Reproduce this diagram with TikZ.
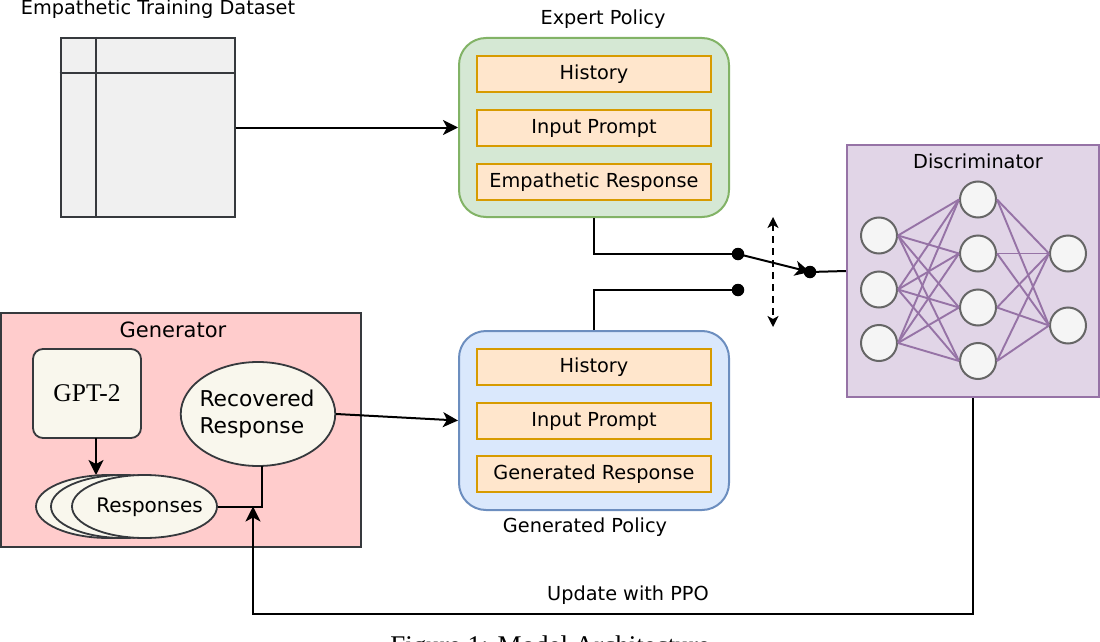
\documentclass[tikz,border=0pt]{standalone}
\usepackage{fontspec}
\setmainfont{DejaVu Sans}
\newfontfamily\capfont{Liberation Serif}
\usepackage{tikz}
\usetikzlibrary{arrows.meta,shapes}
\definecolor{darkline}{HTML}{36393D}
\definecolor{greenfill}{HTML}{D5E8D4}
\definecolor{greenline}{HTML}{82B366}
\definecolor{bluefill}{HTML}{DAE8FC}
\definecolor{blueline}{HTML}{6C8EBF}
\definecolor{purplefill}{HTML}{E1D5E7}
\definecolor{purpleline}{HTML}{9673A6}
\definecolor{fieldfill}{HTML}{FFE6CC}
\definecolor{fieldline}{HTML}{D79B00}
\definecolor{creamfill}{HTML}{F9F7ED}
\definecolor{redfill}{HTML}{FFCCCC}
\tikzstyle{label text}=[font=\fontsize{19.3}{23}\selectfont, inner sep=0pt, align=left]
\tikzstyle{policy}=[draw, line width=2pt, rounded corners=27pt, minimum width=270pt, minimum height=179pt, inner sep=0pt]
\tikzstyle{field}=[draw=fieldline, line width=2.2pt, fill=fieldfill, minimum width=234pt, minimum height=36pt, inner sep=0pt, font=\fontsize{19.3}{23}\selectfont]
\tikzstyle{oval}=[ellipse, draw=darkline, line width=1.8pt, fill=creamfill, inner sep=0pt]
\tikzstyle{nn vertex}=[circle, draw=black!60, line width=2pt, fill=black!4, minimum size=36pt, inner sep=0pt]
\tikzstyle{nn edge}=[draw=purpleline, line width=1.9pt,-]
\tikzstyle{edge}=[draw, line width=2pt, -{Stealth[length=15pt, width=15pt, inset=4pt]}]
\tikzstyle{wire}=[draw, line width=2pt, -]
\tikzstyle{dot}=[circle, fill=black, minimum size=12.5pt, inner sep=0pt]

\begin{document}
\begin{tikzpicture}[x=1pt, y=-1pt]
\clip (0,0) rectangle (1100,642);
\useasboundingbox (0,0) rectangle (1100,642);

% First we draw the boxes
\node[draw=darkline, line width=2pt, fill=black!6, minimum width=174pt, minimum height=179pt, inner sep=0pt] (dataset) at (147.5,127.5) {};
\draw[draw=darkline, line width=2pt] ([xshift=36pt]dataset.north west) -- ([xshift=36pt]dataset.south west);
\draw[draw=darkline, line width=2pt] ([yshift=-36pt]dataset.north west) -- ([yshift=-36pt]dataset.north east);

\node[policy, draw=greenline, fill=greenfill] (expert) at (594,127.5) {};
\node[policy, draw=blueline, fill=bluefill] (generated) at (594,420.5) {};

\node[draw=darkline, line width=2pt, fill=redfill, minimum width=359.5pt, minimum height=233.5pt, inner sep=0pt] (generator) at (180.75,429.75) {};
\node[draw=purpleline, line width=2.2pt, fill=purplefill, minimum width=252pt, minimum height=252.5pt, inner sep=0pt] (discriminator) at (973,271) {};

% Fields of the two policies
\foreach \pos/\label/\name in {
	{(594,73.8)/e1/History},
	{(594,128)/e2/Input Prompt},
	{(594,181.8)/e3/Empathetic Response},
	{(594,367)/g1/History},
	{(594,421)/g2/Input Prompt},
	{(594,474)/g3/Generated Response}}
\node[field] (\label) at \pos {\raisebox{2pt}{\vphantom{Ay}\name}};

% Generator parts
\node[draw=darkline, line width=1.8pt, fill=creamfill, rounded corners=10pt, minimum width=108pt, minimum height=89pt, inner sep=0pt, font=\capfont\fontsize{25.5}{29}\selectfont] (gpt) at (87,393.5) {GPT-2};
\node[oval, minimum width=145pt, minimum height=63pt] (resp1) at (108.5,506.5) {};
\node[oval, minimum width=145pt, minimum height=63pt] (resp2) at (123.5,506.5) {};
\node[oval, minimum width=145pt, minimum height=63pt] (responses) at (144.5,506.5) {};
\node[oval, minimum width=154.5pt, minimum height=104pt] (recovered) at (258,414) {};

% Plain labels
\foreach \pos/\label/\name in {
	{(158,9)/tdataset/Empathetic Training Dataset},
	{(603,19)/texpert/Expert Policy},
	{(585,527.5)/tgenerated/Generated Policy},
	{(978,161)/tdiscriminator/Discriminator},
	{(628,595.5)/tupdate/Update with PPO}}
\node[label text] (\label) at \pos {\name};
\node[inner sep=0pt, font=\fontsize{21}{25}\selectfont] (tgenerator) at (173,330) {Generator};
\node[inner sep=0pt, font=\fontsize{20}{24}\selectfont] (tresponses) at (149.5,507) {Responses};
\node[inner sep=0pt, align=left, font=\fontsize{21.8}{27}\selectfont] (trecovered) at (257,414) {Recovered\\Response};
\node[inner sep=0pt, font=\capfont\fontsize{27}{31}\selectfont, anchor=base] (caption) at (550,654) {Figure 1: Model Architecture};

% Neural network vertices
\foreach \pos/\label in {
	{(879,235.5)/i1},
	{(879,289.5)/i2},
	{(879,343)/i3},
	{(978,199.5)/h1},
	{(978,253.5)/h2},
	{(978,307.5)/h3},
	{(978,361)/h4},
	{(1068,253.5)/o1},
	{(1068,325.5)/o2}}
\node[nn vertex] (\label) at \pos {};

% Connect the layers
\foreach \source in {i1,i2,i3}
	\foreach \dest in {h1,h2,h3,h4}
		\path[nn edge] (\source.east) -- (\dest.west);
\foreach \source in {h1,h2,h3,h4}
	\foreach \dest in {o1,o2}
		\path[nn edge] (\source.east) -- (\dest.west);

% Switch
\node[dot] (upper) at (738,254) {};
\node[dot] (lower) at (738,290) {};
\node[dot] (common) at (810,272) {};
\coordinate (swingtop) at (773,217);
\coordinate (swingbottom) at (773,327);
\path[wire] (expert.south) |- (upper);
\path[wire] (generated.north) |- (lower);
\path[edge] (upper.center) -- (common.center);
\path[wire] (common.center) -- (discriminator.west);
\draw[line width=1.8pt, dash pattern=on 7pt off 5pt, {Stealth[length=11pt, width=11pt, inset=3pt]}-{Stealth[length=11pt, width=11pt, inset=3pt]}] (swingtop) -- (swingbottom);

% Remaining connectors
\coordinate (gptout) at (96,438);
\coordinate (respin) at (96,475);
\coordinate (recoveredout) at (262,466);
\coordinate (merge) at (253,506.5);
\coordinate (turn) at (253,614);
\path[edge] (dataset.east) -- (expert.west);
\path[edge] (recovered.east) -- (generated.west);
\path[edge] (gptout) -- (respin);
\path[wire] (responses.east) -| (recoveredout);
\path[edge] (discriminator.south) |- (turn) -- (merge);

\end{tikzpicture}
\end{document}
